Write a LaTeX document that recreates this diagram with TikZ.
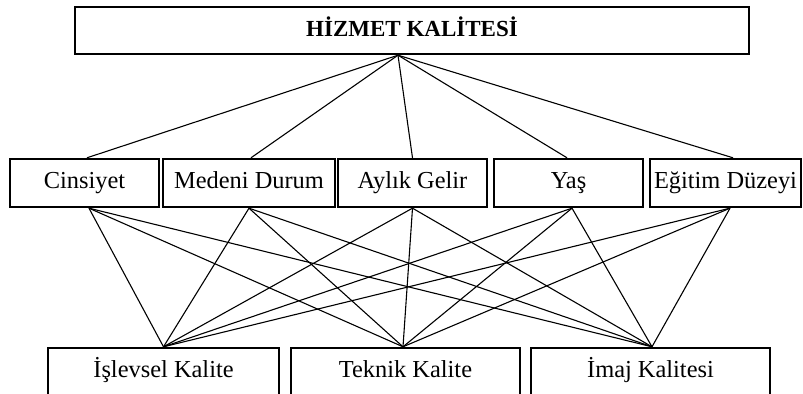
\documentclass[tikz,border=0pt]{standalone}
\usepackage{fontspec}
\setmainfont{Liberation Serif}
\begin{document}
\begin{tikzpicture}[x=0.5pt,y=-0.5pt,
  box/.style={draw, line width=1.2pt, inner sep=0pt, minimum height=24pt,
    text height=8.4pt, text depth=2.6pt,
    font=\fontsize{12.2}{14}\selectfont},
  link/.style={line width=0.55pt}]
\useasboundingbox (0,0) rectangle (803,394);
\begin{scope}
\clip (0,0) rectangle (803,394);
% top
\node[box, minimum width=337pt, minimum height=23.5pt,
  font=\bfseries\fontsize{11.5}{13}\selectfont] (hk) at (412,30.5) {HİZMET KALİTESİ};
% middle
\node[box, minimum width=74.5pt] (cins) at (84.5,183) {Cinsiyet};
\node[box, minimum width=86pt]   (med)  at (249,183)  {Medeni Durum};
\node[box, minimum width=74.5pt] (ayl)  at (412.5,183) {Aylık Gelir};
\node[box, minimum width=74.5pt] (yas)  at (568.5,183) {Yaş};
\node[box, minimum width=75.5pt] (egt)  at (725.5,183) {Eğitim Düzeyi};
% bottom
\node[box, minimum width=115.5pt] (isl) at (163.5,372) {İşlevsel Kalite};
\node[box, minimum width=114.5pt] (tek) at (405.5,372) {Teknik Kalite};
\node[box, minimum width=119.5pt] (imj) at (650.5,372) {İmaj Kalitesi};
% anchor points
\coordinate (hkA) at ([xshift=-7pt]hk.south);
\coordinate (cinsT) at ([xshift=1.25pt]cins.north);
\coordinate (medT)  at ([xshift=1pt]med.north);
\coordinate (aylT)  at (ayl.north);
\coordinate (yasT)  at ([xshift=-0.75pt]yas.north);
\coordinate (egtT)  at ([xshift=3.75pt]egt.north);
\coordinate (cinsB) at ([xshift=2.25pt]cins.south);
\coordinate (medB)  at (med.south);
\coordinate (aylB)  at (ayl.south);
\coordinate (yasB)  at ([xshift=1.75pt]yas.south);
\coordinate (egtB)  at ([xshift=2.25pt]egt.south);
\coordinate (islT)  at (isl.north);
\coordinate (tekT)  at ([xshift=-1.25pt]tek.north);
\coordinate (imjT)  at ([xshift=0.75pt]imj.north);
% connectors
\foreach \m in {cinsT,medT,aylT,yasT,egtT}
  \draw[link] (hkA) -- (\m);
\foreach \m in {cinsB,medB,aylB,yasB,egtB}
  \foreach \b in {islT,tekT,imjT}
    \draw[link] (\m) -- (\b);
\end{scope}
\end{tikzpicture}
\end{document}
